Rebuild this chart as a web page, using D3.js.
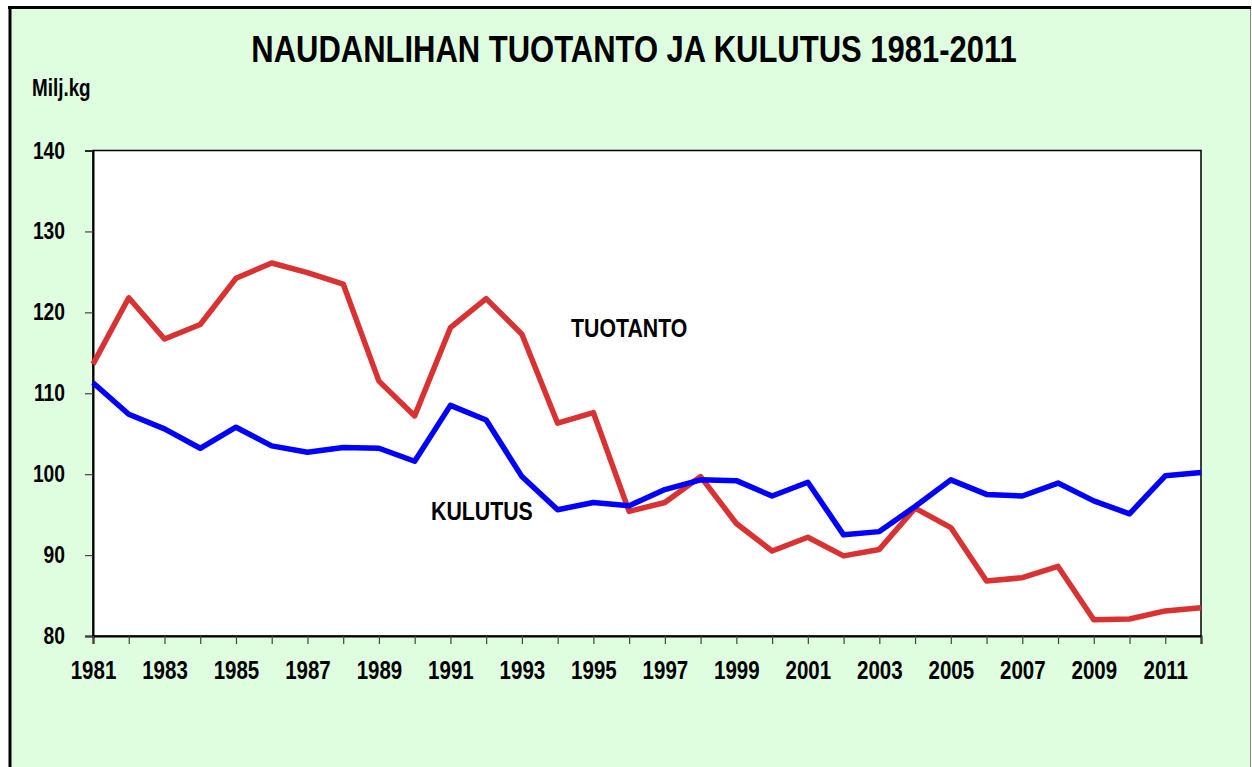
<!DOCTYPE html>
<html>
<head>
<meta charset="utf-8">
<script src="https://cdn.jsdelivr.net/npm/d3@7"></script>
<style>
  body { margin: 0; background: #fff; }
  svg text { font-family: "Liberation Sans", Arial, sans-serif; font-weight: bold; fill: #000; }
</style>
</head>
<body>
<div id="chart"></div>
<script>
// vuodet ja sarjat (milj. kg)
var years = d3.range(1981, 2013);
var tuotanto = [113.6, 121.8, 116.7, 118.5, 124.2, 126.1, 124.9, 123.5, 111.5, 107.2,
  118.1, 121.7, 117.3, 106.3, 107.6, 95.4, 96.5, 99.7, 93.9, 90.5,
  92.2, 89.9, 90.7, 95.8, 93.4, 86.8, 87.2, 88.6, 82.0, 82.1,
  83.1, 83.5];
var kulutus = [111.3, 107.4, 105.6, 103.2, 105.8, 103.5, 102.7, 103.3, 103.2, 101.6,
  108.5, 106.7, 99.7, 95.6, 96.5, 96.1, 98.1, 99.3, 99.2, 97.3,
  99.0, 92.5, 92.9, 96.0, 99.3, 97.5, 97.3, 98.9, 96.7, 95.1,
  99.8, 100.2];
var yTicks = [80, 90, 100, 110, 120, 130, 140];
var xLabelYears = d3.range(1981, 2012, 2);

var W = 1252, H = 767;
var narrow = 0.82; // kapea fontti puuttuu -> puristetaan vaakasuunnassa

var svg = d3.select("#chart").append("svg")
  .attr("width", W)
  .attr("height", H);

// tausta ja kehys
svg.append("rect")
  .attr("x", 9).attr("y", 7)
  .attr("width", 1242).attr("height", H)
  .attr("fill", "#dffddf");
svg.append("line").attr("x1", 8).attr("x2", 1251).attr("y1", 7.5).attr("y2", 7.5)
  .attr("stroke", "#000").attr("stroke-width", 3);
svg.append("line").attr("x1", 10).attr("x2", 10).attr("y1", 6).attr("y2", H)
  .attr("stroke", "#000").attr("stroke-width", 3);
svg.append("line").attr("x1", 1250.5).attr("x2", 1250.5).attr("y1", 9).attr("y2", H)
  .attr("stroke", "#888").attr("stroke-width", 1);

var x = d3.scaleLinear().domain([1981, 2012]).range([93, 1201]);
var y = d3.scaleLinear().domain([80, 140]).range([636, 150.5]);

// piirtoalue
svg.append("rect")
  .attr("x", x(1981)).attr("y", y(140))
  .attr("width", x(2012) - x(1981)).attr("height", y(80) - y(140))
  .attr("fill", "#fff").attr("stroke", "#000").attr("stroke-width", 1.5);

// akselit
var yAxis = svg.append("g")
  .attr("transform", "translate(" + x(1981) + ",0)")
  .call(d3.axisLeft(y).tickValues(yTicks).tickSize(8).tickPadding(20));
var xAxis = svg.append("g")
  .attr("transform", "translate(0," + y(80) + ")")
  .call(d3.axisBottom(x).tickValues(years).tickSize(8).tickPadding(17)
    .tickFormat(function(d) { return xLabelYears.indexOf(d) >= 0 ? d : ""; }));

[yAxis, xAxis].forEach(function(a) {
  a.select(".domain").attr("stroke", "#000").attr("stroke-width", 2);
  a.selectAll(".tick line").attr("stroke", "#444").attr("stroke-width", 1.2);
  a.selectAll(".tick text").attr("fill", "#000")
    .attr("transform", "scale(" + narrow + ",1)");
});
yAxis.selectAll(".tick text").style("font-size", "23.5px").attr("x", -28 / narrow);
xAxis.selectAll(".tick text").style("font-size", "25px");

// viivat
var line = d3.line()
  .x(function(d, i) { return x(years[i]); })
  .y(function(d) { return y(d); });

svg.append("path")
  .datum(tuotanto)
  .attr("fill", "none")
  .attr("stroke", "#d93232")
  .attr("stroke-width", 5.5)
  .attr("stroke-linejoin", "round")
  .attr("d", line);

svg.append("path")
  .datum(kulutus)
  .attr("fill", "none")
  .attr("stroke", "#0000ff")
  .attr("stroke-width", 5.5)
  .attr("stroke-linejoin", "round")
  .attr("d", line);

// tekstit
function addText(tx, ty, size, anchor, str) {
  svg.append("text")
    .attr("transform", "translate(" + tx + "," + ty + ") scale(" + narrow + ",1)")
    .attr("text-anchor", anchor)
    .style("font-size", size + "px")
    .text(str);
}

addText(634, 62, 37.8, "middle", "NAUDANLIHAN TUOTANTO JA KULUTUS 1981-2011");
addText(32, 96, 23, "start", "Milj.kg");
addText(571, 337, 26, "start", "TUOTANTO");
addText(431, 520, 26, "start", "KULUTUS");
</script>
</body>
</html>
